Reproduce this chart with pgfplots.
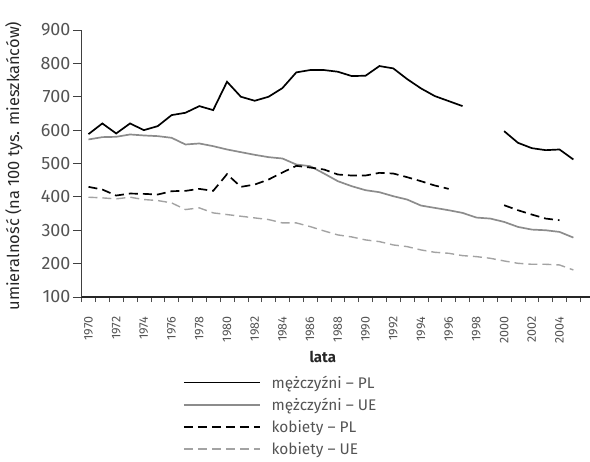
\documentclass[border=0pt]{standalone}
\usepackage{fontspec}
\setmainfont{Fira Sans}
\usepackage{pgfplots}
\pgfplotsset{compat=1.18}
\usepackage{pgfplotstable}
\definecolor{txt}{gray}{0.33}
\definecolor{gsolid}{gray}{0.55}
\definecolor{gdash}{gray}{0.64}
\pgfplotstableread{
year mpl
1970 588
1971 620
1972 590
1973 620
1974 600
1975 612
1976 645
1977 652
1978 672
1979 660
1980 745
1981 700
1982 688
1983 700
1984 726
1985 773
1986 780
1987 780
1988 775
1989 762
1990 763
1991 792
1992 785
1993 753
1994 725
1995 702
1996 687
1997 672
1998 nan
1999 nan
2000 597
2001 562
2002 546
2003 540
2004 542
2005 512
}\menpl
\pgfplotstableread{
year mue
1970 572
1971 579
1972 580
1973 587
1974 584
1975 582
1976 577
1977 557
1978 560
1979 552
1980 542
1981 534
1982 526
1983 519
1984 515
1985 497
1986 492
1987 470
1988 447
1989 432
1990 420
1991 414
1992 402
1993 392
1994 374
1995 367
1996 360
1997 352
1998 338
1999 335
2000 325
2001 310
2002 302
2003 300
2004 295
2005 278
}\menue
\pgfplotstableread{
year wpl
1970 430
1971 422
1972 404
1973 410
1974 409
1975 407
1976 417
1977 418
1978 424
1979 418
1980 468
1981 430
1982 437
1983 452
1984 473
1985 493
1986 488
1987 482
1988 467
1989 464
1990 464
1991 472
1992 470
1993 459
1994 447
1995 434
1996 424
1997 nan
1998 nan
1999 nan
2000 375
2001 360
2002 347
2003 335
2004 330
}\wompl
\pgfplotstableread{
year wue
1970 399
1971 397
1972 394
1973 399
1974 392
1975 389
1976 382
1977 362
1978 367
1979 352
1980 347
1981 342
1982 337
1983 332
1984 322
1985 322
1986 311
1987 298
1988 286
1989 280
1990 271
1991 266
1992 256
1993 251
1994 241
1995 234
1996 231
1997 224
1998 221
1999 216
2000 208
2001 201
2002 198
2003 198
2004 196
2005 181
}\womue
\begin{document}
\begin{tikzpicture}
\useasboundingbox (0,0) rectangle (590bp,462bp);
\begin{axis}[
  at={(81bp,165bp)}, anchor=south west,
  scale only axis, width=509bp, height=267bp,
  xmin=1969.46, xmax=2006.2,
  ymin=100, ymax=900,
  axis lines=left,
  axis line style={-},
  x axis line style={line width=1.6pt, black!85},
  y axis line style={line width=0.9pt, black!75},
  ytick={100,200,...,900},
  xtick={1970,1972,...,2004},
  minor xtick={1969.5,1970.5,...,2005.5},
  major x tick style={draw=none},
  minor x tick style={black!70, line width=0.6pt},
  minor tick length=5bp,
  y tick style={black!75, line width=0.8pt},
  major tick length=8bp,
  tick align=outside,
  /pgf/number format/assume math mode=true,
  /pgf/number format/set thousands separator={},
  xticklabel style={yshift=-8bp, rotate=90, anchor=east, font=\fontsize{12.5}{14}\selectfont, text=txt},
  yticklabel style={font=\fontsize{18}{20}\selectfont, text=txt, xshift=1bp},
  xlabel={\textbf{lata}},
  xlabel style={at={(axis description cs:0.475,-0.225)}, anchor=center, font=\fontsize{15}{17}\selectfont, text=black!85},
  ylabel={umieralność (na 100 tys. mieszkańców)},
  ylabel style={at={(axis description cs:-0.132,0.49)}, anchor=center, rotate=0, font=\fontsize{16.5}{18}\selectfont, text=black!85},
  unbounded coords=jump,
  legend style={at={(axis description cs:0.194,-0.279)}, anchor=north west, draw=none, fill=none,
    font=\fontsize{15.5}{17}\selectfont, text=txt, row sep=4.5bp,
    /tikz/every odd column/.append style={column sep=9bp}},
  legend cell align=left,
  legend image code/.code={\draw[#1] (0bp,0bp) -- (76bp,0bp);},
  clip=false,
]
\addplot[black, line width=1.7pt] table[x=year, y=mpl] {\menpl};
\addlegendentry{mężczyźni – PL}
\addplot[gsolid, line width=1.7pt] table[x=year, y=mue] {\menue};
\addlegendentry{mężczyźni – UE}
\addplot[black, line width=1.7pt, dash pattern=on 9bp off 5bp] table[x=year, y=wpl] {\wompl};
\addlegendentry{kobiety – PL}
\addplot[gdash, line width=1.4pt, dash pattern=on 9bp off 5bp] table[x=year, y=wue] {\womue};
\addlegendentry{kobiety – UE}
\end{axis}
\end{tikzpicture}
\end{document}
